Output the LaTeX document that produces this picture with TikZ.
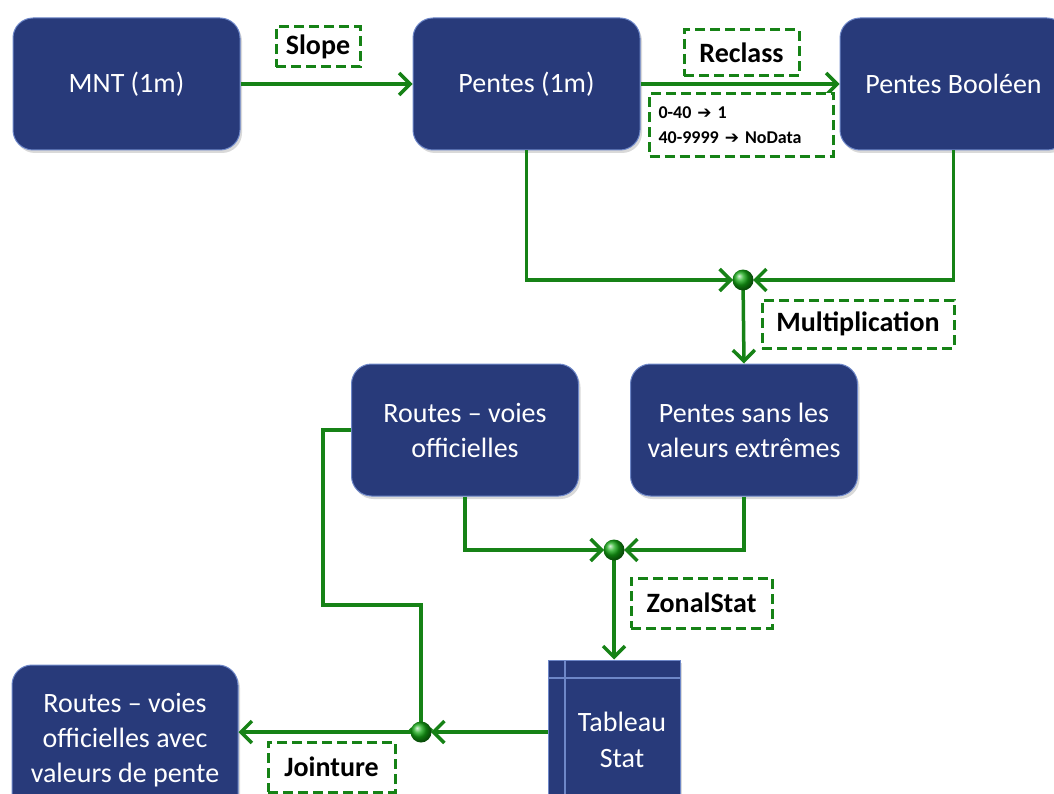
\documentclass[tikz,border=0pt]{standalone}
\usepackage{fontspec}
\setmainfont{Carlito}
\newfontfamily\symfont{DejaVu Sans}
\usetikzlibrary{arrows.meta,shadows}
\definecolor{boxblue}{RGB}{40,58,122}
\definecolor{boxedge}{RGB}{110,135,200}
\definecolor{lgreen}{RGB}{22,130,22}
\definecolor{ballgreen}{RGB}{20,170,20}
\tikzset{
  proc/.style={draw=boxedge, line width=1pt, fill=boxblue, rounded corners=20pt,
    minimum width=227pt, minimum height=132pt, align=center, text=white,
    font=\fontsize{28}{35}\selectfont, inner sep=0pt,
    drop shadow={shadow xshift=2pt, shadow yshift=-3pt, opacity=0.3}},
  lbl/.style={draw=lgreen, dashed, dash pattern=on 10pt off 5pt, line width=3pt,
    fill=white, font=\fontsize{28}{32}\selectfont\bfseries, inner sep=0pt, align=center},
  conn/.style={draw=lgreen, line width=3.5pt, -{Straight Barb[length=11pt,width=22pt,line width=3.5pt]}},
  junc/.style={circle, minimum size=21pt, inner sep=0pt, ball color=ballgreen, draw=none}
}
\newcommand{\bigarr}{{\symfont\fontsize{17}{25}\selectfont ➔}}
\begin{document}
\begin{tikzpicture}[x=1pt,y=-1pt]
\useasboundingbox (0,0) rectangle (1054,794);
\begin{scope}
\clip (0,0) rectangle (1054,794);
% boxes
\node[proc] (mnt) at (126.5,84) {MNT (1m)};
\node[proc] (pentes) at (526.5,84) {Pentes (1m)};
\node[proc] (bool) at (953.5,84) {Pentes Booléen};
\node[proc] (routes) at (465,430) {Routes – voies\\officielles};
\node[proc] (psans) at (744,430) {Pentes sans les\\valeurs extrêmes};
\node[proc, minimum width=226pt, minimum height=150pt] (final) at (125,740) {Routes – voies\\officielles avec\\valeurs de pente};
\node[draw=boxedge, line width=1pt, fill=boxblue, minimum width=132pt, minimum height=160pt,
  inner sep=0pt, drop shadow={shadow xshift=2pt, shadow yshift=-3pt, opacity=0.3}] (tab) at (614,740) {};
\draw[boxedge, line width=1.2pt] (565,660) -- (565,794);
\draw[boxedge, line width=1.2pt] (548,678) -- (680,678);
\node[text=white, align=center, font=\fontsize{28}{36}\selectfont] (tabtxt) at (622,740) {Tableau\\Stat};
\end{scope}
% junction points
\coordinate (j1) at (743,280);
\coordinate (j2) at (614,550);
\coordinate (j3) at (421,732);
\coordinate (c1) at (323,430);
\coordinate (c2) at (323,605);
\coordinate (c3) at (421,605);
% connectors
\draw[conn] (mnt.east) -- (pentes.west);
\draw[conn] (pentes.east) -- (bool.west);
\draw[conn] (pentes.south) |- ([xshift=-10pt]j1);
\draw[conn] (bool.south) |- ([xshift=10pt]j1);
\draw[conn] (j1) -- (psans.north);
\draw[conn] (routes.south) |- ([xshift=-10pt]j2);
\draw[conn] (psans.south) |- ([xshift=10pt]j2);
\draw[conn] (j2) -- (j2 |- tab.north);
\draw[conn] (routes.west) -- (c1) -- (c2) -- (c3) -- ([yshift=-10pt]j3);
\draw[conn] (tab.west |- j3) -- ([xshift=10pt]j3);
\draw[conn] (j3) -- (final.east |- j3);
\node[junc] (n1) at (j1) {};
\node[junc] (n2) at (j2) {};
\node[junc] (n3) at (j3) {};
% labels
\node[lbl, minimum width=84pt, minimum height=40pt] (slope) at (318,47) {Slope};
\node[lbl, minimum width=115pt, minimum height=46pt] (reclass) at (741.5,53) {Reclass};
\node[lbl, minimum width=184pt, minimum height=63pt, font=\fontsize{18}{25}\selectfont\bfseries, anchor=north west, text width=166pt, inner xsep=9pt, align=left] (rng) at (648,92) {0-40 \bigarr{} 1\\40-9999 \bigarr{} NoData};
\node[lbl, minimum width=192pt, minimum height=48pt] (mult) at (858,324) {Multiplication};
\node[lbl, minimum width=141pt, minimum height=50pt] (zonal) at (701.5,603) {ZonalStat};
\node[lbl, minimum width=127pt, minimum height=50pt] (joint) at (331.5,767) {Jointure};
\end{tikzpicture}
\end{document}
